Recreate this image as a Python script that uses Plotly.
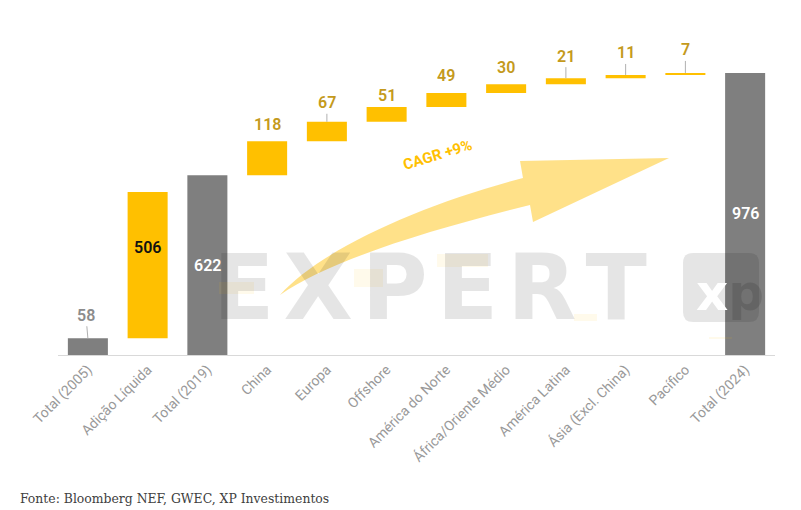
import plotly.graph_objects as go

categories = ["Total (2005)", "Adição Líquida", "Total (2019)", "China", "Europa", "Offshore",
              "América do Norte", "África/Oriente Médio", "América Latina",
              "Ásia (Excl. China)", "Pacífico", "Total (2024)"]
values = [58, 506, 622, 118, 67, 51, 49, 30, 21, 11, 7, 976]
measures = ["absolute", "relative", "absolute", "relative", "relative", "relative",
            "relative", "relative", "relative", "relative", "relative", "total"]

GOLD = "#ffc000"
GREY = "#7f7f7f"

# plot area in page pixels (page body has an 8px margin)
L, R, T, B = 58, 775, 66, 355
OFF = 8


def px(x, y):
    return f"{(x - L) / (R - L):.4f},{(B - y) / (B - T):.4f}"


def pxx(x):
    return (x - L) / (R - L)


def pxy(y):
    return (B - y) / (B - T)


fig = go.Figure(go.Waterfall(
    x=categories, y=values, measure=measures,
    increasing=dict(marker=dict(color=GOLD)),
    totals=dict(marker=dict(color=GREY)),
    connector=dict(visible=False),
    hoverinfo="skip",
))

# label placement: top/middle of each bar from the running sum
label_mode = ["out", "in", "in", "out", "out", "out", "out", "out", "out", "out", "out", "in"]
label_color = ["#8c8c8c", "#111111", "#ffffff"] + ["#c49a1c"] * 8 + ["#ffffff"]
label_lift = [23, 18, 0, 17, 19, 12, 17, 17, 22, 22, 23, 0]
leader = [True, False, False, False, True, False, False, False, True, True, True, False]

run = 0
for i, (c, v, m) in enumerate(zip(categories, values, measures)):
    if m == "absolute":
        run = v
        low = 0
    elif m == "relative":
        low = run
        run += v
    else:
        low = 0
    if label_mode[i] == "in":
        fig.add_annotation(x=c, y=(low + run) / 2, text=str(v), showarrow=False,
                           yshift=label_lift[i],
                           font=dict(family="Roboto", size=16, color=label_color[i], weight=600))
    else:
        fig.add_annotation(x=c, y=run, text=str(v), showarrow=True, ax=-2 if i == 0 else 0,
                           ay=-label_lift[i], arrowhead=0, arrowwidth=1, standoff=0,
                           arrowcolor="#b0b0b0" if leader[i] else "rgba(0,0,0,0)",
                           font=dict(family="Roboto", size=16, color=label_color[i], weight=600))

# watermark
fig.add_annotation(xref="paper", yref="paper", x=pxx(429.5), y=pxy(287.5),
                   xanchor="center", yanchor="middle", text="E\u200aX\u200aP\u200aE\u200aR\u200aT",
                   showarrow=False, font=dict(family="DejaVu Sans", size=90, weight="bold",
                                              color="rgba(0,0,0,0.1)"))
for x0, y0, x1, y1 in [(219, 282, 254, 294), (354, 269, 383, 287), (437, 254, 488, 267),
                       (574, 314, 597, 321), (709, 337, 732, 339)]:
    fig.add_shape(type="path", xref="paper", yref="paper",
                  path=f"M {px(x0, y0)} L {px(x1, y0)} L {px(x1, y1)} L {px(x0, y1)} Z",
                  fillcolor="rgba(255,192,0,0.08)", line=dict(width=0), layer="above")
logo = (f"M {px(693, 253)} L {px(749, 253)} Q {px(759, 253)} {px(759, 263)} "
        f"L {px(759, 312)} Q {px(759, 322)} {px(749, 322)} L {px(693, 322)} "
        f"Q {px(683, 322)} {px(683, 312)} L {px(683, 263)} Q {px(683, 253)} {px(693, 253)} Z")
fig.add_shape(type="path", xref="paper", yref="paper", path=logo,
              fillcolor="rgba(0,0,0,0.1)", line=dict(width=0), layer="above")
fig.add_annotation(xref="paper", yref="paper", x=pxx(730), y=pxy(293),
                   xanchor="center", yanchor="middle",
                   text='<span style="color:#ffffff">x</span><span style="color:rgba(0,0,0,0.12)">p</span>',
                   showarrow=False, font=dict(family="DejaVu Sans", size=50, weight="bold"))

# CAGR arrow
arrow = (f"M {px(280, 295)} C {px(320, 250)} {px(420, 205)} {px(523, 178)} "
         f"L {px(520, 161)} L {px(669, 158)} L {px(533, 222)} L {px(530, 205)} "
         f"C {px(430, 230)} {px(330, 260)} {px(280, 295)} Z")
fig.add_shape(type="path", xref="paper", yref="paper", path=arrow,
              fillcolor="rgba(255,200,40,0.55)", line=dict(width=0), layer="above")
fig.add_annotation(xref="paper", yref="paper", x=pxx(437), y=pxy(155),
                   xanchor="center", yanchor="middle",
                   text="CAGR +9%", textangle=-17, showarrow=False,
                   font=dict(family="Roboto", size=15, color=GOLD, weight="bold"))

fig.add_annotation(xref="paper", yref="paper", x=pxx(18), y=pxy(498),
                   xanchor="left", yanchor="middle",
                   text="Fonte: Bloomberg NEF, GWEC, XP Investimentos", showarrow=False,
                   font=dict(family="DejaVu Serif Condensed", size=13.8, color="#404040"))

fig.update_layout(
    width=801, height=510,
    margin=dict(l=L - OFF, r=801 - R + OFF, t=T - OFF, b=510 - B + OFF),
    paper_bgcolor="white", plot_bgcolor="white",
    showlegend=False, waterfallgap=0.33,
    xaxis=dict(showline=True, linecolor="#d9d9d9", linewidth=1, ticks="", tickangle=-45,
               automargin=False,
               tickfont=dict(family="Roboto", size=14, color="#999999"), fixedrange=True),
    yaxis=dict(range=[0, 1000], visible=False, fixedrange=True),
)

fig.write_html("out.html")
